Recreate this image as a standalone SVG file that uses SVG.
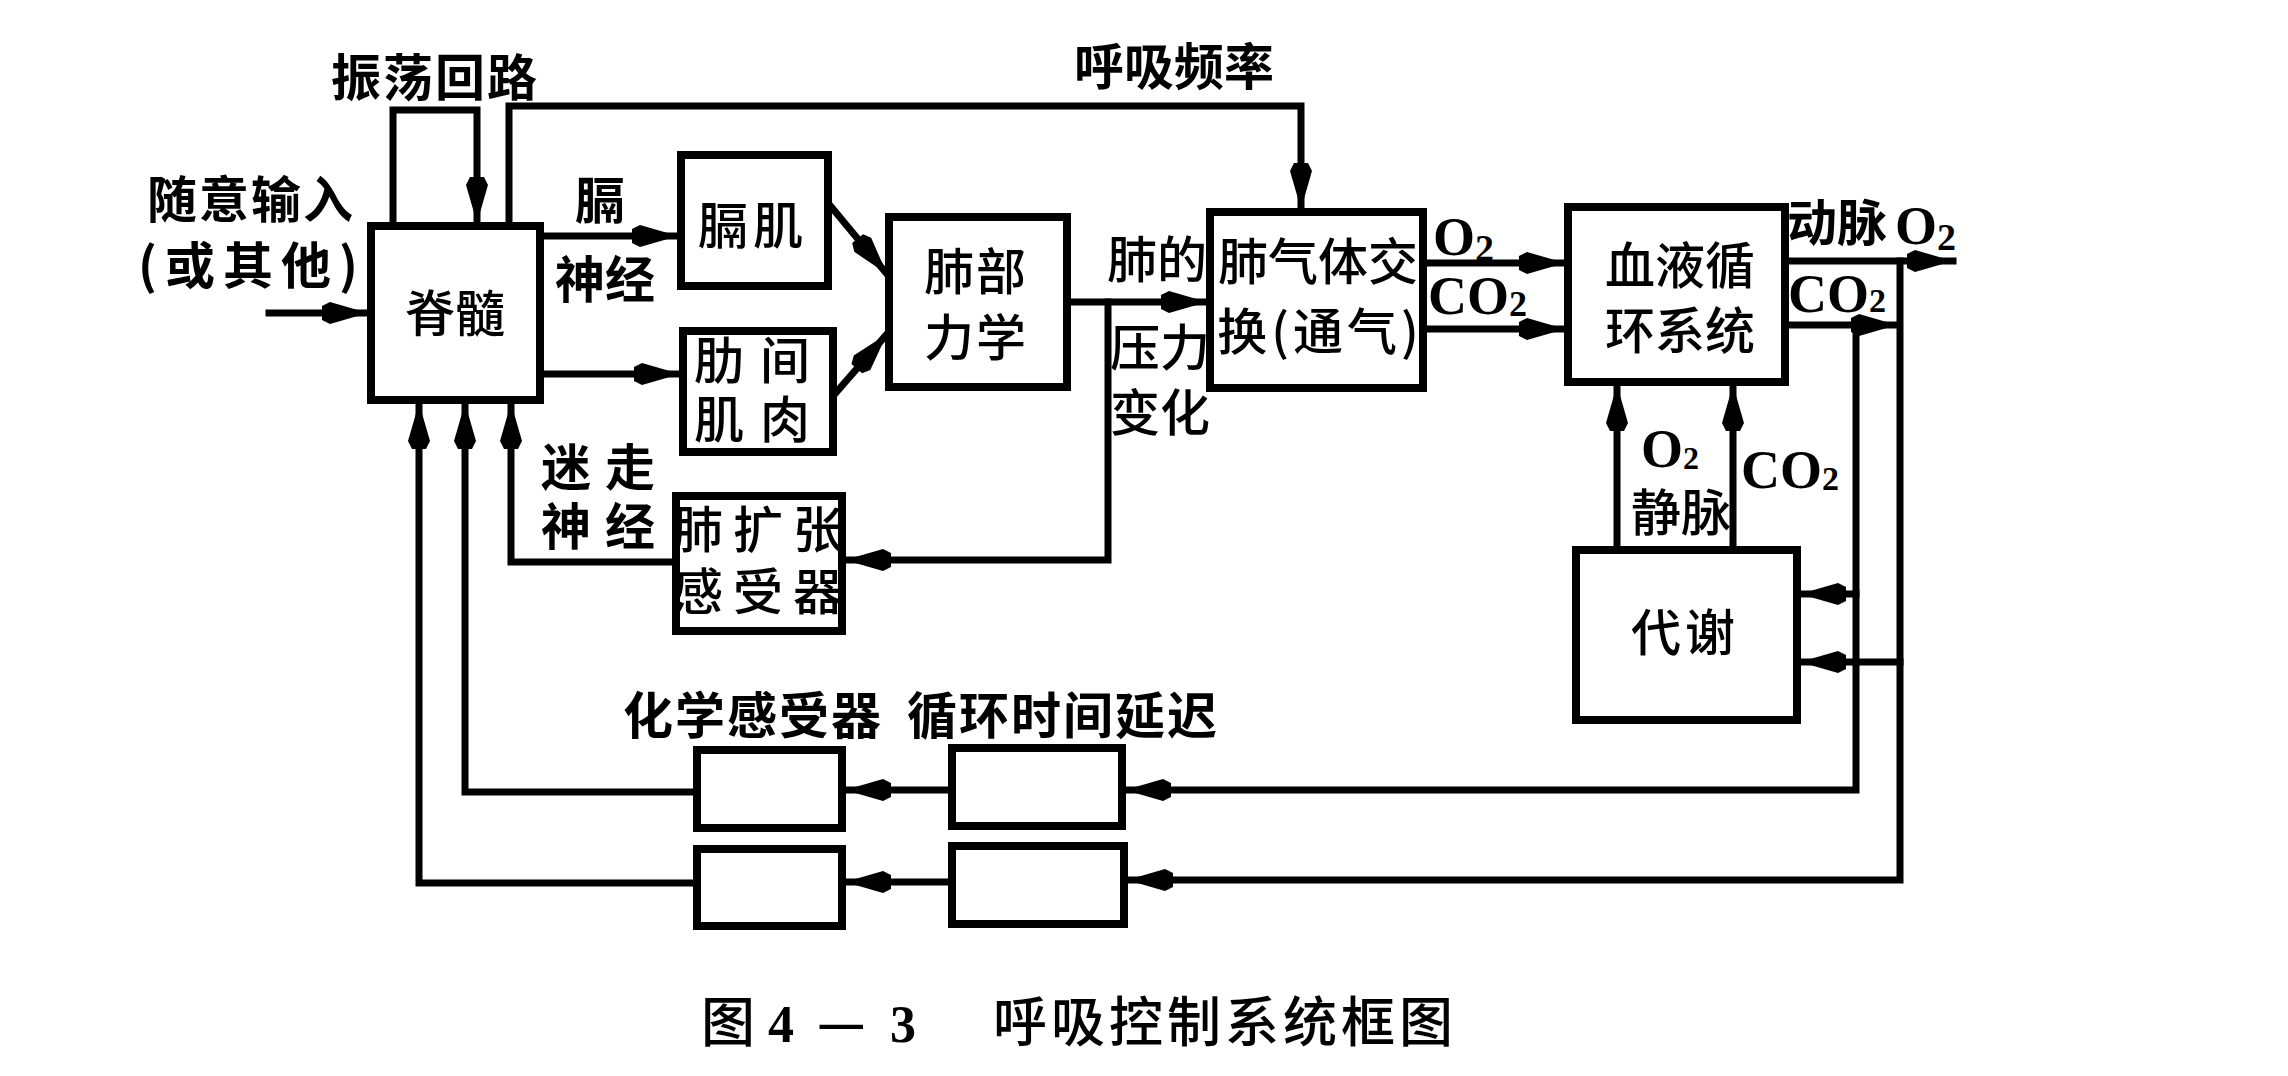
<svg xmlns="http://www.w3.org/2000/svg" width="2288" height="1076" viewBox="0 0 2288 1076">
<style>
.box{fill:#fff;stroke:#000;stroke-width:8}
.ln{fill:none;stroke:#000;stroke-width:7;stroke-linejoin:miter;stroke-linecap:square}
.t{font-family:"Noto Sans CJK SC","Noto Sans CJK TC",sans-serif;font-size:50px;text-anchor:middle;fill:#000}
.b{font-weight:700}
.m{font-weight:500}
.lat{font-family:"Liberation Serif",serif;font-size:54px;font-weight:700;fill:#000}
.cap{font-family:"Noto Sans CJK SC",sans-serif;font-size:54px;fill:#000;font-weight:500}
.dig{font-family:"Liberation Serif",serif;font-size:52px;font-weight:700;fill:#000}
</style>
<defs>
<marker id="ah" markerUnits="userSpaceOnUse" viewBox="0 0 50 24" markerWidth="50" markerHeight="24" refX="50" refY="12" orient="auto">
<path d="M50,12 L12,1 L4,5 L4,19 L12,23 Z" fill="#000"/>
</marker>
</defs>
<rect width="2288" height="1076" fill="#fff"/>

<g id="connectors">
<path class="ln" d="M393,226 V110 H477 V223" marker-end="url(#ah)"/>
<path class="ln" d="M509,226 V106 H1301 V209" marker-end="url(#ah)"/>
<path class="ln" d="M269,313 H368" marker-end="url(#ah)"/>
<path class="ln" d="M540,236 H678" marker-end="url(#ah)"/>
<path class="ln" d="M540,374 H680" marker-end="url(#ah)"/>
<path class="ln" d="M828,203 L887,274" marker-end="url(#ah)"/>
<path class="ln" d="M833,396 L887,334" marker-end="url(#ah)"/>
<path class="ln" d="M1067,302 H1207" marker-end="url(#ah)"/>
<path class="ln" d="M1108,302 V560 H845" marker-end="url(#ah)"/>
<path class="ln" d="M676,562 H511 V403" marker-end="url(#ah)"/>
<path class="ln" d="M1423,263 H1565" marker-end="url(#ah)"/>
<path class="ln" d="M1423,329 H1565" marker-end="url(#ah)"/>
<path class="ln" d="M1785,261 H1953" marker-end="url(#ah)"/>
<path class="ln" d="M1785,325 H1897" marker-end="url(#ah)"/>
<path class="ln" d="M1900,261 V880 H1127" marker-end="url(#ah)"/>
<path class="ln" d="M1856,325 V790 H1125" marker-end="url(#ah)"/>
<path class="ln" d="M1856,594 H1800" marker-end="url(#ah)"/>
<path class="ln" d="M1900,662 H1800" marker-end="url(#ah)"/>
<path class="ln" d="M1617,550 V385" marker-end="url(#ah)"/>
<path class="ln" d="M1733,550 V385" marker-end="url(#ah)"/>
<path class="ln" d="M952,790 H845" marker-end="url(#ah)"/>
<path class="ln" d="M697,792 H465 V403" marker-end="url(#ah)"/>
<path class="ln" d="M952,882 H845" marker-end="url(#ah)"/>
<path class="ln" d="M697,883 H419 V403" marker-end="url(#ah)"/>
</g>

<g id="spinal-cord">
<rect class="box" x="371" y="226" width="169" height="174"/>
<text class="t m" x="455" y="332">脊髓</text>
</g>
<g id="diaphragm">
<rect class="box" x="681" y="155" width="147" height="131"/>
<text class="t m" x="753" y="244" letter-spacing="5">膈肌</text>
</g>
<g id="intercostal">
<rect class="box" x="683" y="331" width="150" height="121"/>
<text class="t m" font-size="44" letter-spacing="16"><tspan x="760" y="379">肋间</tspan><tspan x="760" y="438">肌肉</tspan></text>
</g>
<g id="lung-mechanics">
<rect class="box" x="889" y="217" width="178" height="170"/>
<text class="t m" letter-spacing="2"><tspan x="976" y="290">肺部</tspan><tspan x="976" y="356">力学</tspan></text>
</g>
<g id="gas-exchange">
<rect class="box" x="1210" y="212" width="213" height="176"/>
<text class="t m"><tspan x="1318" y="280">肺气体交</tspan><tspan x="1320" y="350" letter-spacing="4">换(通气)</tspan></text>
</g>
<g id="circulation">
<rect class="box" x="1568" y="207" width="217" height="175"/>
<text class="t m"><tspan x="1680" y="284">血液循</tspan><tspan x="1680" y="349">环系统</tspan></text>
</g>
<g id="stretch-receptor">
<rect class="box" x="676" y="496" width="166" height="135"/>
<text class="t m" font-size="44" letter-spacing="10"><tspan x="763" y="548">肺扩张</tspan><tspan x="763" y="610">感受器</tspan></text>
</g>
<g id="metabolism">
<rect class="box" x="1576" y="550" width="221" height="170"/>
<text class="t m" x="1685" y="651" letter-spacing="4">代谢</text>
</g>
<g id="chemo-1">
<rect class="box" x="697" y="750" width="145" height="78"/>
</g>
<g id="delay-1">
<rect class="box" x="952" y="748" width="170" height="78"/>
</g>
<g id="chemo-2">
<rect class="box" x="697" y="849" width="145" height="77"/>
</g>
<g id="delay-2">
<rect class="box" x="952" y="846" width="172" height="78"/>
</g>

<g id="labels">
<text class="t b" x="435" y="96" letter-spacing="2">振荡回路</text>
<text class="t b"><tspan x="251" y="218" letter-spacing="2">随意输入</tspan><tspan x="252" y="284" letter-spacing="8">(或其他)</tspan></text>
<text class="t b"><tspan x="600" y="219">膈</tspan><tspan x="605" y="298">神经</tspan></text>
<text class="t b" x="1174" y="85">呼吸频率</text>
<text class="t m"><tspan x="1157" y="278">肺的</tspan><tspan x="1160" y="366">压力</tspan><tspan x="1160" y="431">变化</tspan></text>
<text class="t b" font-size="44" letter-spacing="14"><tspan x="605" y="486">迷走</tspan><tspan x="605" y="545">神经</tspan></text>
<text class="t b" x="753" y="734" letter-spacing="2">化学感受器</text>
<text class="t b" x="1063" y="734" letter-spacing="2">循环时间延迟</text>
<text class="t b" x="1837" y="241" font-size="48">动脉</text>
<text class="t m" x="1681" y="531" font-size="46">静脉</text>
<text class="lat" x="1433" y="255">O<tspan font-size="38" dy="6">2</tspan></text>
<text class="lat" x="1428" y="314">CO<tspan font-size="36" dy="2">2</tspan></text>
<text class="lat" x="1895" y="244" font-size="52">O<tspan font-size="38" dy="6">2</tspan></text>
<text class="lat" x="1788" y="312" font-size="52">CO<tspan font-size="34">2</tspan></text>
<text class="lat" x="1641" y="467" font-size="48">O<tspan font-size="32" dy="2">2</tspan></text>
<text class="lat" x="1741" y="488" font-size="52">CO<tspan font-size="34" dy="2">2</tspan></text>
</g>

<g id="caption">
<text class="cap" x="701" y="1042" font-size="52">图</text>
<text class="dig" x="768" y="1042">4</text>
<text class="cap" x="817" y="1042" font-size="54">—</text>
<text class="dig" x="890" y="1042">3</text>
<text class="cap" x="993" y="1042" letter-spacing="4">呼吸控制系统框图</text>
</g>
</svg>
